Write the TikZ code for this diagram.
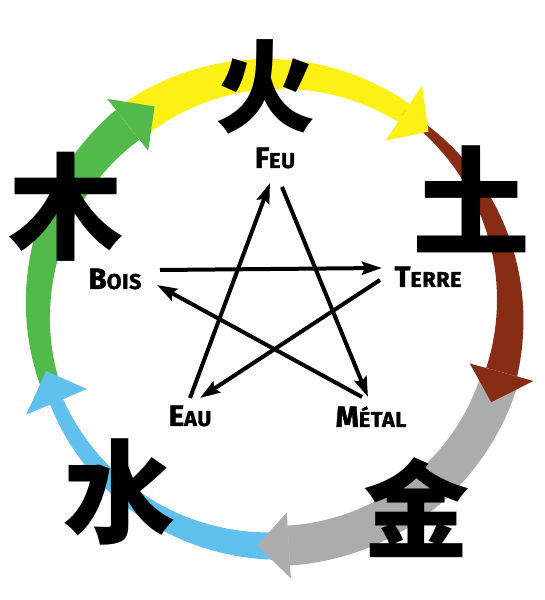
\documentclass[tikz,border=0pt]{standalone}
\usepackage{fontspec}
\newfontfamily\cjkfont{Noto Sans CJK SC}
\newfontfamily\labfont{Fira Sans}[LetterSpace=3,FakeBold=1.5]
\usetikzlibrary{arrows.meta}
\definecolor{cyellow}{RGB}{252,240,20}
\definecolor{cgreen}{RGB}{82,186,74}
\definecolor{cbrown}{RGB}{135,45,22}
\definecolor{cgray}{RGB}{172,172,172}
\definecolor{cblue}{RGB}{96,192,238}
% tapered ring band: colour, start angle, end angle, start width, end width
\newcommand{\ringband}[5]{%
  \fill[#1] plot[domain=#2:#3,samples=60]
    (\x:{236+((#4)+((#5)-(#4))*(\x-(#2))/((#3)-(#2)))/2})
  -- plot[domain=#3:#2,samples=60]
    (\x:{236-((#4)+((#5)-(#4))*(\x-(#2))/((#3)-(#2)))/2}) -- cycle;}
% arrow head on the ring: colour, base angle, tip angle
\newcommand{\ringhead}[3]{%
  \fill[#1] (#2:269) -- (#2:203) -- (#3:236) -- cycle;}
\newcommand{\smc}[2]{{\fontsize{29.5}{29.5}\selectfont #1}{\fontsize{21.5}{21.5}\selectfont #2}}
\tikzset{
  hanzi/.style={inner sep=0pt},
  elem/.style={inner sep=0pt, anchor=base, font=\labfont\bfseries},
  star/.style={line width=4pt, -{Stealth[length=20pt,width=13pt,inset=3pt]}}
}
\begin{document}
\begin{tikzpicture}[x=1pt,y=1pt]
\fill[white] (0,0) rectangle (544,600);
\useasboundingbox (0,0) rectangle (544,600);
\begin{scope}[shift={(274,290)}]
  \ringband{cgreen}{202.9}{128.3}{18}{38}
  \ringband{cyellow}{128.3}{56.6}{40}{21}
  \ringband{cbrown}{56.6}{-15.3}{6}{32}
  \ringband{cgray}{-15.3}{-86.4}{38}{40}
  \ringband{cblue}{-86.4}{-157.1}{28}{14}
  \ringhead{cgreen}{128.3}{120.4}
  \ringhead{cyellow}{56.6}{49.1}
  \ringhead{cbrown}{-15.3}{-23}
  \ringhead{cgray}{-86.4}{-94.1}
  \ringhead{cblue}{-157.1}{-165}
\end{scope}
% Chinese characters
\node[hanzi, font=\cjkfont\bfseries\fontsize{100}{100}\selectfont] (huo) at (265,513) {火};
\node[hanzi, font=\cjkfont\bfseries\fontsize{118}{118}\selectfont] (tu) at (471,401) {土};
\node[hanzi, font=\cjkfont\bfseries\fontsize{115}{115}\selectfont] (mu) at (66,393) {木};
\node[hanzi, font=\cjkfont\bfseries\fontsize{112}{112}\selectfont] (shui) at (119,108) {水};
\node[hanzi, font=\cjkfont\bfseries\fontsize{106}{106}\selectfont] (jin) at (416,92) {金};
% element labels
\node[elem] (feu) at (275,432) {\smc{F}{EU}};
\node[elem] (terre) at (428,313) {\smc{T}{ERRE}};
\node[elem] (metal) at (371,173) {\smc{M}{ÉTAL}};
\node[elem] (eau) at (190,174) {\smc{E}{AU}};
\node[elem] (bois) at (115,311) {\smc{B}{OIS}};
% star end points
\coordinate (feuIn) at (270,417);
\coordinate (feuOut) at (282,413);
\coordinate (metalIn) at (368,203);
\coordinate (metalOut) at (362,203);
\coordinate (boisIn) at (157,315);
\coordinate (boisOut) at (160,330);
\coordinate (terreIn) at (382,332);
\coordinate (terreOut) at (380,320);
\coordinate (eauIn) at (200,202);
\coordinate (eauOut) at (190,202);
\draw[star] (eauOut) -- (feuIn);
\draw[star] (feuOut) -- (metalIn);
\draw[star] (metalOut) -- (boisIn);
\draw[star] (boisOut) -- (terreIn);
\draw[star] (terreOut) -- (eauIn);
\end{tikzpicture}
\end{document}
